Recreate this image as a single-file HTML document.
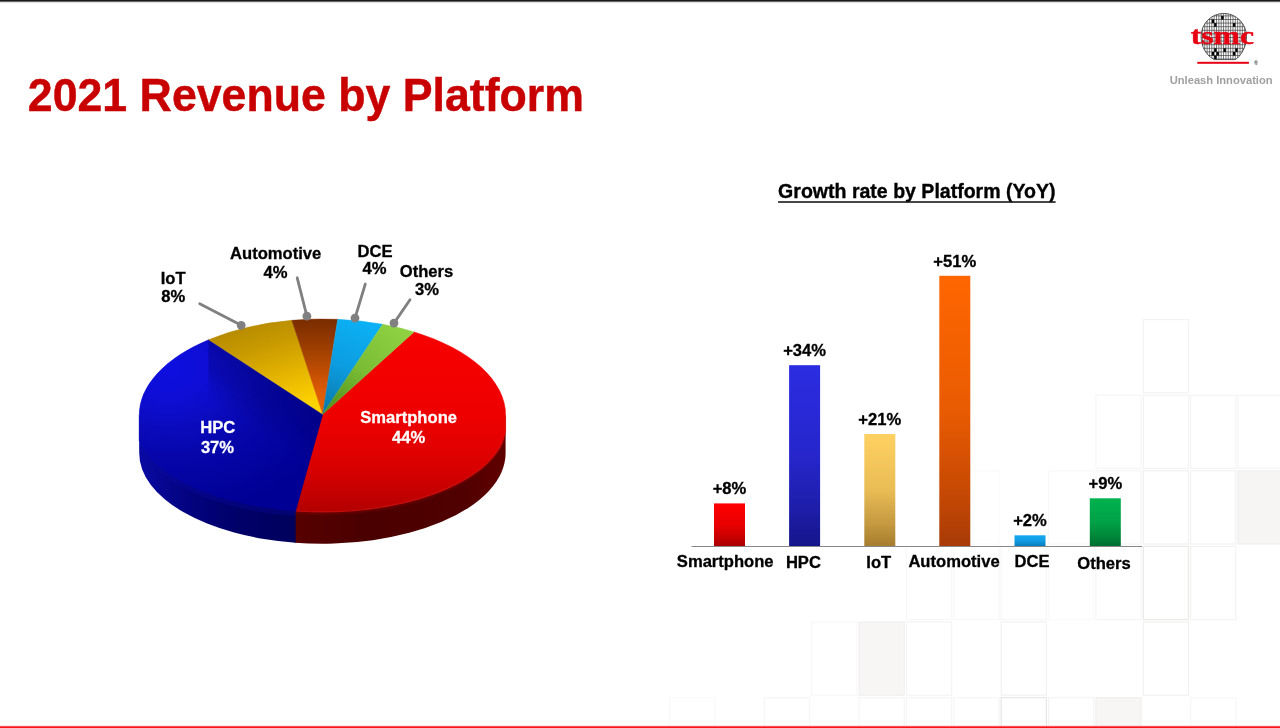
<!DOCTYPE html>
<html lang="en"><head><meta charset="utf-8"><title>2021 Revenue by Platform</title>
<style>
html,body{margin:0;padding:0;background:#fff;}
body{width:1280px;height:728px;overflow:hidden;}
svg{display:block;}
text{font-family:"Liberation Sans",Arial,Helvetica,sans-serif;font-weight:bold;}
.b{fill:#000;font-size:16.6px;stroke:#000;stroke-width:0.3px;}
.w{fill:#fff;font-size:16.6px;stroke:#fff;stroke-width:0.25px;}
.m{text-anchor:middle;}
</style></head><body>
<svg width="1280" height="728" viewBox="0 0 1280 728">
<defs>
<linearGradient id="b1" x1="0" y1="0" x2="0" y2="1"><stop offset="0" stop-color="#ff0000"/><stop offset="0.5" stop-color="#e90000"/><stop offset="0.8" stop-color="#c60000"/><stop offset="1" stop-color="#a80000"/></linearGradient>
<linearGradient id="b2" x1="0" y1="0" x2="0" y2="1"><stop offset="0" stop-color="#2c2ce2"/><stop offset="0.5" stop-color="#2626cc"/><stop offset="0.8" stop-color="#1d1da8"/><stop offset="1" stop-color="#15158a"/></linearGradient>
<linearGradient id="b3" x1="0" y1="0" x2="0" y2="1"><stop offset="0" stop-color="#ffd162"/><stop offset="0.5" stop-color="#e9bc55"/><stop offset="0.8" stop-color="#c49940"/><stop offset="1" stop-color="#a67c2e"/></linearGradient>
<linearGradient id="b4" x1="0" y1="0" x2="0" y2="1"><stop offset="0" stop-color="#ff6600"/><stop offset="0.5" stop-color="#e95b02"/><stop offset="0.8" stop-color="#c64904"/><stop offset="1" stop-color="#a83a06"/></linearGradient>
<linearGradient id="b5" x1="0" y1="0" x2="0" y2="1"><stop offset="0" stop-color="#14a8f0"/><stop offset="0.5" stop-color="#119ce2"/><stop offset="0.8" stop-color="#0c88ca"/><stop offset="1" stop-color="#0878b6"/></linearGradient>
<linearGradient id="b6" x1="0" y1="0" x2="0" y2="1"><stop offset="0" stop-color="#00b24e"/><stop offset="0.5" stop-color="#00a146"/><stop offset="0.8" stop-color="#00853a"/><stop offset="1" stop-color="#006e30"/></linearGradient>
<linearGradient id="g_smart" gradientUnits="userSpaceOnUse" x1="0" y1="325" x2="0" y2="512"><stop offset="0" stop-color="#f80000"/><stop offset="0.5" stop-color="#ee0000"/><stop offset="0.75" stop-color="#da0000"/><stop offset="0.9" stop-color="#c40000"/><stop offset="1" stop-color="#b20000"/></linearGradient>
<radialGradient id="g_hpc" gradientUnits="userSpaceOnUse" cx="168" cy="368" r="190" gradientTransform="translate(168 368) scale(1 0.78) translate(-168 -368)"><stop offset="0" stop-color="#0e0ee0"/><stop offset="0.2" stop-color="#0e0ed6"/><stop offset="0.4" stop-color="#0b0bbe"/><stop offset="0.6" stop-color="#0606aa"/><stop offset="0.85" stop-color="#02029c"/><stop offset="1" stop-color="#000094"/></radialGradient>
<linearGradient id="g_iot" gradientUnits="userSpaceOnUse" x1="262" y1="322" x2="292" y2="412"><stop offset="0" stop-color="#b88c00"/><stop offset="0.25" stop-color="#c89a00"/><stop offset="0.6" stop-color="#e4b400"/><stop offset="1" stop-color="#ffd400"/></linearGradient>
<linearGradient id="g_auto" gradientUnits="userSpaceOnUse" x1="0" y1="319" x2="0" y2="414"><stop offset="0" stop-color="#7a2c00"/><stop offset="0.3" stop-color="#9c3e00"/><stop offset="0.75" stop-color="#dc5a04"/><stop offset="1" stop-color="#e86400"/></linearGradient>
<linearGradient id="g_dce" gradientUnits="userSpaceOnUse" x1="362" y1="322" x2="325" y2="412"><stop offset="0" stop-color="#0cb0f4"/><stop offset="0.5" stop-color="#0c9ce0"/><stop offset="1" stop-color="#0a78aa"/></linearGradient>
<linearGradient id="g_oth" gradientUnits="userSpaceOnUse" x1="398" y1="328" x2="325" y2="412"><stop offset="0" stop-color="#8ed242"/><stop offset="0.5" stop-color="#7abc34"/><stop offset="1" stop-color="#4e8e1a"/></linearGradient>
<linearGradient id="s_smart" gradientUnits="userSpaceOnUse" x1="290" y1="0" x2="506" y2="0"><stop offset="0" stop-color="#580000"/><stop offset="0.35" stop-color="#4a0000"/><stop offset="0.8" stop-color="#500000"/><stop offset="1" stop-color="#600000"/></linearGradient>
<linearGradient id="s_hpc" gradientUnits="userSpaceOnUse" x1="139" y1="0" x2="296" y2="0"><stop offset="0" stop-color="#0a0aa4"/><stop offset="0.25" stop-color="#040486"/><stop offset="0.6" stop-color="#00006a"/><stop offset="1" stop-color="#00005c"/></linearGradient>
<clipPath id="wc"><path d="M1214.3 59.6 C1206.5 56 1201.1 46.8 1201.1 36.4 C1201.1 23.7 1211.3 13.4 1223.8 13.4 C1236.3 13.4 1246.5 23.7 1246.5 36.4 C1246.5 46.8 1241.1 56 1235.3 59.6 Z"/></clipPath>
<linearGradient id="h_sh" gradientUnits="userSpaceOnUse" x1="268" y1="372" x2="238" y2="418"><stop offset="0" stop-color="#00006e" stop-opacity="0.42"/><stop offset="0.5" stop-color="#00006e" stop-opacity="0.3"/><stop offset="1" stop-color="#00006e" stop-opacity="0"/></linearGradient>
<clipPath id="hc"><path d="M322.7 414.3 L295.64 510.99 A186.5 87.9 0 0 1 139.2 440.46 L139.2 415.2 A183.2 96.2 0 0 1 208.61 339.81 Z"/></clipPath>
<clipPath id="pc"><path d="M139.2 415.2 A183.2 96.2 0 0 1 505.6 415.2 L505.6 453.1 A183.2 90.6 0 0 1 139.2 453.1 Z"/></clipPath>
</defs>
<rect width="1280" height="728" fill="#fff"/>
<g fill="none" stroke-width="1.2">
<rect x="1143.31" y="319.6" width="45.17" height="73.2" stroke="#f3f3f3"/>
<rect x="1095.94" y="395.2" width="45.17" height="73.2" stroke="#f6f6f6"/>
<rect x="1143.31" y="395.2" width="45.17" height="73.2" stroke="#f3f3f3"/>
<rect x="1190.68" y="395.2" width="45.17" height="73.2" stroke="#f4f4f4"/>
<rect x="1238.05" y="395.2" width="45.17" height="73.2" stroke="#f4f4f4"/>
<rect x="953.83" y="470.8" width="45.17" height="73.2" stroke="#fafafa"/>
<rect x="1048.57" y="470.8" width="45.17" height="73.2" stroke="#f8f8f8"/>
<rect x="1095.94" y="470.8" width="45.17" height="73.2" stroke="#f5f5f5"/>
<rect x="1143.31" y="470.8" width="45.17" height="73.2" stroke="#f1f1f1"/>
<rect x="1190.68" y="470.8" width="45.17" height="73.2" stroke="#f2f2f2"/>
<rect x="1238.05" y="470.8" width="45.17" height="73.2" stroke="#efefef" fill="#f6f5f4"/>
<rect x="906.46" y="546.4" width="45.17" height="73.2" stroke="#f8f8f8"/>
<rect x="953.83" y="546.4" width="45.17" height="73.2" stroke="#f7f7f7"/>
<rect x="1001.2" y="546.4" width="45.17" height="73.2" stroke="#f6f6f6"/>
<rect x="1048.57" y="546.4" width="45.17" height="73.2" stroke="#fafafa"/>
<rect x="1095.94" y="546.4" width="45.17" height="73.2" stroke="#f5f5f5"/>
<rect x="1143.31" y="546.4" width="45.17" height="73.2" stroke="#ebe8e6"/>
<rect x="1190.68" y="546.4" width="45.17" height="73.2" stroke="#f3f3f3"/>
<rect x="811.72" y="622" width="45.17" height="73.2" stroke="#f8f8f8"/>
<rect x="859.09" y="622" width="45.17" height="73.2" stroke="#f1f0ef" fill="#f7f6f5"/>
<rect x="906.46" y="622" width="45.17" height="73.2" stroke="#f4f4f4"/>
<rect x="1001.2" y="622" width="45.17" height="73.2" stroke="#f3f2f1"/>
<rect x="1143.31" y="622" width="45.17" height="73.2" stroke="#f3f1f0"/>
<rect x="669.61" y="697.6" width="45.17" height="73.2" stroke="#f9f9f9"/>
<rect x="764.35" y="697.6" width="45.17" height="73.2" stroke="#f6f6f6"/>
<rect x="859.09" y="697.6" width="45.17" height="73.2" stroke="#f5f5f5"/>
<rect x="906.46" y="697.6" width="45.17" height="73.2" stroke="#f5f5f5"/>
<rect x="953.83" y="697.6" width="45.17" height="73.2" stroke="#f6f6f6"/>
<rect x="1001.2" y="697.6" width="45.17" height="73.2" stroke="#e9e6e4"/>
<rect x="1048.57" y="697.6" width="45.17" height="73.2" stroke="#f4f4f4"/>
<rect x="1095.94" y="697.6" width="45.17" height="73.2" stroke="#f1f0ef" fill="#f7f6f5"/>
<rect x="1190.68" y="697.6" width="45.17" height="73.2" stroke="#f7f7f7"/>
</g>
<rect x="0" y="0" width="1280" height="1.6" fill="#1a1a1a"/>
<rect x="0" y="1.6" width="1280" height="0.8" fill="#1a1a1a" opacity="0.35"/>
<rect x="0" y="726.3" width="1280" height="1.7" fill="#f81418"/>
<rect x="0" y="725.7" width="1280" height="0.6" fill="#f81418" opacity="0.3"/>
<text transform="translate(27.85 110.9) scale(1 1.035)" x="0" y="0" font-size="44.68" fill="#c80000" stroke="#c80000" stroke-width="0.45">2021 Revenue by Platform</text>
<g>
<g clip-path="url(#wc)"><rect x="1199" y="12" width="50" height="50" fill="#fff"/>
<path d="M1200.05 12V61M1202.4 12V61M1204.75 12V61M1207.1 12V61M1209.45 12V61M1211.8 12V61M1214.15 12V61M1216.5 12V61M1218.85 12V61M1221.2 12V61M1223.55 12V61M1225.9 12V61M1228.25 12V61M1230.6 12V61M1232.95 12V61M1235.3 12V61M1237.65 12V61M1240 12V61M1242.35 12V61M1244.7 12V61M1247.05 12V61M1199 12.3H1249M1199 15.9H1249M1199 19.5H1249M1199 23.1H1249M1199 26.7H1249M1199 30.3H1249M1199 33.9H1249M1199 37.5H1249M1199 41.1H1249M1199 44.7H1249M1199 48.3H1249M1199 51.9H1249M1199 55.5H1249M1199 59.1H1249" stroke="#404040" stroke-width="0.68" fill="none"/>
<rect x="1221.2" y="15.9" width="2.35" height="3.6" fill="#000"/>
<rect x="1211.8" y="19.5" width="2.35" height="3.6" fill="#000"/>
<rect x="1214.15" y="23.1" width="2.35" height="3.6" fill="#000"/>
<rect x="1232.95" y="23.1" width="2.35" height="3.6" fill="#000"/>
<rect x="1214.15" y="48.3" width="2.35" height="3.6" fill="#000"/>
<rect x="1223.55" y="48.3" width="2.35" height="3.6" fill="#000"/>
<rect x="1235.3" y="48.3" width="2.35" height="3.6" fill="#000"/>
<rect x="1211.8" y="51.9" width="2.35" height="3.6" fill="#000"/>
<rect x="1216.5" y="51.9" width="2.35" height="3.6" fill="#000"/>
<rect x="1232.95" y="51.9" width="2.35" height="3.6" fill="#000"/>
<rect x="1214.15" y="55.5" width="2.35" height="3.6" fill="#000"/>
</g>
<path d="M1214.3 59.6 C1206.5 56 1201.1 46.8 1201.1 36.4 C1201.1 23.7 1211.3 13.4 1223.8 13.4 C1236.3 13.4 1246.5 23.7 1246.5 36.4 C1246.5 46.8 1241.1 56 1235.3 59.6 Z" fill="none" stroke="#333" stroke-width="0.8"/>
<text x="1190.8" y="44.3" font-size="25.2" textLength="63.2" lengthAdjust="spacingAndGlyphs" style="font-family:'Liberation Serif','Times New Roman',serif;font-weight:bold" fill="#e60012" stroke="#e60012" stroke-width="0.45">tsmc</text>
<rect x="1197.3" y="61.8" width="51.6" height="2" fill="#e60012"/>
<text x="1254" y="64.6" font-size="5.5" fill="#444">®</text>
<text transform="translate(1169.7 84.3) scale(1 1.0)" font-size="11.17" fill="#a0a0a4">Unleash Innovation</text>
</g>
<g>
<path d="M294.64 415.2 L505.6 415.2 L505.6 453.1 A183.2 90.6 0 0 1 294.64 542.65 Z" fill="url(#s_smart)"/>
<path d="M139.2 415.2 L295.64 415.2 L295.64 542.73 A183.2 90.6 0 0 1 139.2 453.1 Z" fill="url(#s_hpc)"/>
<g clip-path="url(#pc)">
<path d="M295.64 513.49 A186.5 87.9 0 0 1 139.2 442.96" fill="none" stroke="#0a0aa4" stroke-width="5" opacity="0.3"/>
<path d="M505.6 433.69 A184 87.9 0 0 1 322.4 513.4 A186.5 87.9 0 0 1 295.64 512.49" fill="none" stroke="#8c0000" stroke-width="3" opacity="0.3"/>
</g>
<path d="M322.7 414.3 L414 331.89 A183.2 96.2 0 0 1 505.6 415.2 L505.6 432.19 A184 87.9 0 0 1 322.4 511.9 A186.5 87.9 0 0 1 295.64 510.99 Z" fill="url(#g_smart)" stroke="url(#g_smart)" stroke-width="0.5" stroke-linejoin="round"/>
<path d="M322.7 414.3 L295.64 510.99 A186.5 87.9 0 0 1 139.2 440.46 L139.2 415.2 A183.2 96.2 0 0 1 208.61 339.81 Z" fill="url(#g_hpc)" stroke="url(#g_hpc)" stroke-width="0.5" stroke-linejoin="round"/>
<path d="M322.7 414.3 L208.61 339.81 A183.2 96.2 0 0 1 291.85 320.35 Z" fill="url(#g_iot)" stroke="url(#g_iot)" stroke-width="0.5" stroke-linejoin="round"/>
<path d="M322.7 414.3 L291.85 320.35 A183.2 96.2 0 0 1 337.73 319.34 Z" fill="url(#g_auto)" stroke="url(#g_auto)" stroke-width="0.5" stroke-linejoin="round"/>
<path d="M322.7 414.3 L337.73 319.34 A183.2 96.2 0 0 1 382.65 324.35 Z" fill="url(#g_dce)" stroke="url(#g_dce)" stroke-width="0.5" stroke-linejoin="round"/>
<path d="M322.7 414.3 L382.65 324.35 A183.2 96.2 0 0 1 414 331.89 Z" fill="url(#g_oth)" stroke="url(#g_oth)" stroke-width="0.5" stroke-linejoin="round"/>
<g clip-path="url(#hc)"><rect x="208.4" y="330" width="125" height="190" fill="url(#h_sh)"/></g>
<path d="M502.6 441.77 A184 87.9 0 0 1 322.4 511.9 A186.5 87.9 0 0 1 296.14 511.02" fill="none" stroke="#e41a1a" stroke-width="1.2" opacity="0.5"/>
</g>
<g stroke="#808080" stroke-width="2.8" stroke-linecap="round" fill="#808080">
<path d="M199.7 303.7 L241.2 325.3"/>
<circle cx="241.2" cy="325.3" r="4.4" stroke="none"/>
<path d="M297.2 277.8 L306.9 316.2"/>
<circle cx="306.9" cy="316.2" r="4.4" stroke="none"/>
<path d="M365.3 284 L355 318.1"/>
<circle cx="355" cy="318.1" r="4.4" stroke="none"/>
<path d="M410 299.7 L394 323.1"/>
<circle cx="394" cy="323.1" r="4.4" stroke="none"/>
</g>
<text class="w m" transform="translate(408.6 422.8) scale(1 1.038)" font-size="16.85">Smartphone</text>
<text class="w m" transform="translate(408.6 443.4) scale(1 1.038)" font-size="16.85">44%</text>
<text class="w m" transform="translate(217.8 433.1) scale(1 1.038)" font-size="16.85">HPC</text>
<text class="w m" transform="translate(217.5 453.4) scale(1 1.038)" font-size="16.85">37%</text>
<text class="b m" transform="translate(173.1 284.2) scale(1 1.038)">IoT</text>
<text class="b m" transform="translate(173.3 301.9) scale(1 1.038)">8%</text>
<text class="b m" transform="translate(275.7 259) scale(1 1.038)">Automotive</text>
<text class="b m" transform="translate(275.5 277.8) scale(1 1.038)">4%</text>
<text class="b m" transform="translate(375 256.5) scale(1 1.038)">DCE</text>
<text class="b m" transform="translate(374.5 274.3) scale(1 1.038)">4%</text>
<text class="b m" transform="translate(426.5 277.3) scale(1 1.038)">Others</text>
<text class="b m" transform="translate(427 295.3) scale(1 1.038)">3%</text>
<text transform="translate(778.1 198.2) scale(1 1.0)" font-size="19.54" fill="#000" stroke="#000" stroke-width="0.35">Growth rate by Platform (YoY)</text>
<rect x="778.1" y="201.2" width="277.5" height="1.6" fill="#1a1a1a"/>
<rect x="714" y="503.4" width="31" height="43.1" fill="url(#b1)"/>
<text class="b m" transform="translate(729.5 494.1) scale(1 1.04)">+8%</text>
<rect x="789.1" y="365.2" width="31" height="181.3" fill="url(#b2)"/>
<text class="b m" transform="translate(804.6 355.9) scale(1 1.04)">+34%</text>
<rect x="864.3" y="434" width="31" height="112.5" fill="url(#b3)"/>
<text class="b m" transform="translate(879.8 424.7) scale(1 1.04)">+21%</text>
<rect x="939.3" y="275.8" width="31" height="270.7" fill="url(#b4)"/>
<text class="b m" transform="translate(954.8 266.5) scale(1 1.04)">+51%</text>
<rect x="1014.5" y="535.3" width="31" height="11.2" fill="url(#b5)"/>
<text class="b m" transform="translate(1030 526) scale(1 1.04)">+2%</text>
<rect x="1089.8" y="498.3" width="31" height="48.2" fill="url(#b6)"/>
<text class="b m" transform="translate(1105.3 489) scale(1 1.04)">+9%</text>
<rect x="691.5" y="546" width="450.6" height="1" fill="#888"/>
<text class="b m" transform="translate(725.2 567.4) scale(1 1.038)" font-size="16.8">Smartphone</text>
<text class="b m" transform="translate(803.4 567.6) scale(1 1.038)" font-size="16.8">HPC</text>
<text class="b m" transform="translate(878.8 567.9) scale(1 1.038)" font-size="16.8">IoT</text>
<text class="b m" transform="translate(954 567.4) scale(1 1.038)" font-size="16.8">Automotive</text>
<text class="b m" transform="translate(1032 567.4) scale(1 1.038)" font-size="16.8">DCE</text>
<text class="b m" transform="translate(1104 568.9) scale(1 1.038)" font-size="16.8">Others</text>
</svg>
</body></html>
